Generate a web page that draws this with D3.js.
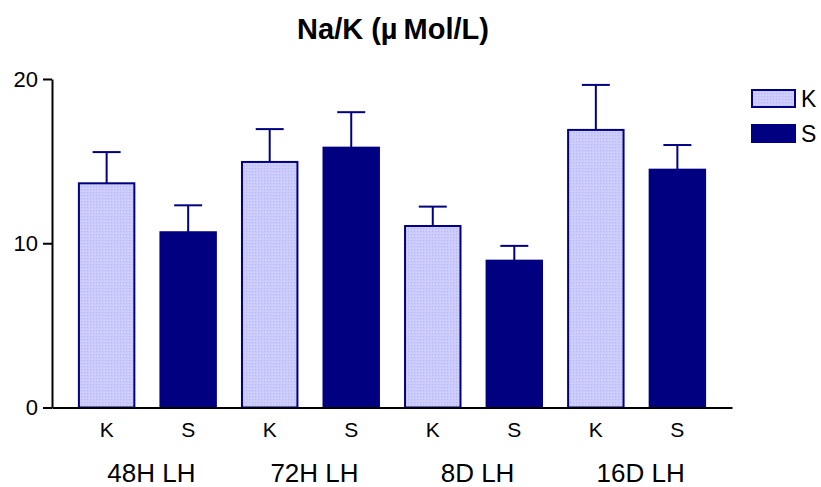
<!DOCTYPE html>
<html><head><meta charset="utf-8">
<script src="https://cdn.jsdelivr.net/npm/d3@7"></script>
<style>body{margin:0;background:#fff}svg{display:block}</style>
</head><body>
<script>
const groups = ["48H LH","72H LH","8D LH","16D LH"];
const seriesNames = ["K","S"];
const kMeans = [13.65, 14.95, 11.05, 16.9];
const kErr   = [1.9, 2.0, 1.18, 2.74];
const sMeans = [10.67, 15.82, 8.94, 14.48];
const sErr   = [1.64, 2.16, 0.9, 1.5];
const yTicks = [0, 10, 20];
const titleParts = ["Na/K (µ", "Mol/L)"];

const W = 821, H = 487;
const FONT = "Arial, 'Liberation Sans', sans-serif";
const svg = d3.select("body").append("svg").attr("width", W).attr("height", H);
const defs = svg.append("defs");
const pat = defs.append("pattern").attr("id","hatch").attr("patternUnits","userSpaceOnUse").attr("width",3).attr("height",3);
pat.append("rect").attr("width",3).attr("height",3).attr("fill","#cacafc");
pat.append("rect").attr("x",0).attr("y",0).attr("width",1).attr("height",1).attr("fill","#b8b8f2");
pat.append("rect").attr("x",2).attr("y",2).attr("width",1).attr("height",1).attr("fill","#d6d6ff");

const navy = "#000080";
const rows = [];
groups.forEach((g,i)=>{
  rows.push({g, s:"K", v:kMeans[i], e:kErr[i], key:g+"|K"});
  rows.push({g, s:"S", v:sMeans[i], e:sErr[i], key:g+"|S"});
});

const x = d3.scaleBand().domain(rows.map(d=>d.key)).range([52, 732]).paddingInner(0.32).paddingOuter(0.33);
const y = d3.scaleLinear().domain([0,20]).range([407.5, 79]);

svg.append("g").selectAll("rect").data(rows).join("rect")
  .attr("x", d=>x(d.key)).attr("width", x.bandwidth())
  .attr("y", d=>y(d.v)).attr("height", d=>y(0)-y(d.v))
  .attr("fill", d=>d.s==="K" ? "url(#hatch)" : navy)
  .attr("stroke", navy).attr("stroke-width", 2);

const eb = svg.append("g").attr("stroke", navy).attr("stroke-width", 2);
eb.selectAll("line.v").data(rows).join("line").attr("class","v")
  .attr("x1", d=>x(d.key)+x.bandwidth()/2).attr("x2", d=>x(d.key)+x.bandwidth()/2)
  .attr("y1", d=>y(d.v)).attr("y2", d=>y(d.v+d.e));
eb.selectAll("line.c").data(rows).join("line").attr("class","c")
  .attr("x1", d=>x(d.key)+x.bandwidth()/2-14).attr("x2", d=>x(d.key)+x.bandwidth()/2+14)
  .attr("y1", d=>y(d.v+d.e)).attr("y2", d=>y(d.v+d.e));

const ya = svg.append("g").attr("transform","translate(52,0)")
  .call(d3.axisLeft(y).tickValues(yTicks).tickSize(9).tickPadding(5).tickSizeOuter(0));
ya.select(".domain").attr("stroke","#000").attr("stroke-width",2);
ya.selectAll(".tick line").attr("stroke","#000").attr("stroke-width",2);
ya.selectAll("text").attr("font-family",FONT).attr("font-size",22).attr("fill","#000");

const xa = svg.append("g").attr("transform",`translate(0,${y(0)})`)
  .call(d3.axisBottom(x).tickSize(0).tickPadding(15).tickSizeOuter(0).tickFormat(k=>k.split("|")[1]));
xa.select(".domain").attr("stroke","#000").attr("stroke-width",2);
xa.selectAll("text").attr("font-family",FONT).attr("font-size",21).attr("fill","#000");

const gx = d3.scalePoint().domain(groups).range([x(groups[0]+"|K")+x.bandwidth()+ (x.step()-x.bandwidth())/2, x(groups[3]+"|K")+x.bandwidth()+(x.step()-x.bandwidth())/2]);
svg.append("g").selectAll("text").data(groups).join("text")
  .attr("x", d=>gx(d)+4).attr("y", 482)
  .attr("text-anchor","middle")
  .attr("font-family",FONT).attr("font-size",26)
  .text(d=>d);

const t = svg.append("text").attr("x", 393).attr("y", 38.5).attr("text-anchor","middle")
  .attr("font-family",FONT).attr("font-size",29).attr("font-weight","bold");
t.append("tspan").text(titleParts[0]);
t.append("tspan").attr("dx",6).text(titleParts[1]);

const lg = svg.append("g").selectAll("g").data(seriesNames).join("g")
  .attr("transform",(d,i)=>`translate(752,${90+i*35})`);
lg.append("rect").attr("width",43).attr("height",17)
  .attr("fill", d=>d==="K" ? "url(#hatch)" : navy).attr("stroke",navy).attr("stroke-width",2);
lg.append("text").attr("x",49).attr("y",17)
  .attr("font-family",FONT).attr("font-size",23).text(d=>d);
</script>
</body></html>
